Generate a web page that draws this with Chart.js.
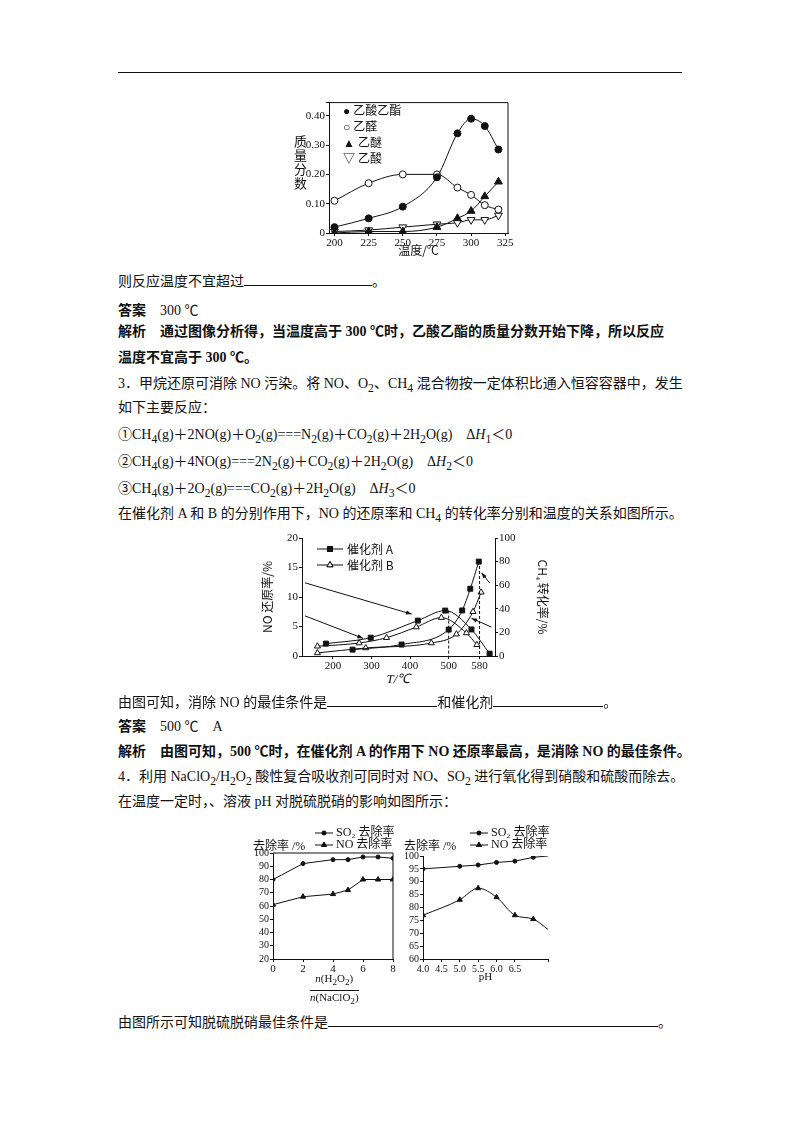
<!DOCTYPE html>
<html><head><meta charset="utf-8">
<script src="https://cdn.jsdelivr.net/npm/chart.js@4"></script>
<style>
body{margin:0;width:800px;height:1132px;background:#fff;position:relative;font-family:"Liberation Serif","Noto Sans CJK SC",serif;color:#111}
.t{position:absolute;left:118px;font-size:14px;line-height:18px;white-space:nowrap}
.b{font-weight:bold}
.u{display:inline-block;border-bottom:1px solid #111;height:13px;vertical-align:baseline}
canvas{position:absolute}
.s{position:absolute;font-size:12px;white-space:nowrap}
</style></head><body>
<div style="position:absolute;left:118px;top:72px;width:564px;border-top:1px solid #111"></div>

<canvas id="c1" width="250" height="175" style="left:280px;top:95px"></canvas>
<div class="s" style="left:290px;top:135px;writing-mode:vertical-rl;font-size:13px;letter-spacing:1px">质量分数</div>
<div class="s" style="left:343px;top:103px;line-height:16px;font-size:12px">● 乙酸乙酯<br>○ 乙醛<br>▲ 乙醚<br>▽ 乙酸</div>

<div class="t" style="top:272px">则反应温度不宜超过<span class="u" style="width:128px"></span>。</div>
<div class="t" style="top:302px"><b>答案</b>　300 ℃</div>
<div class="t b" style="top:323px">解析　通过图像分析得，当温度高于 300 ℃时，乙酸乙酯的质量分数开始下降，所以反应</div>
<div class="t b" style="top:349px">温度不宜高于 300 ℃。</div>
<div class="t" style="top:375px">3．甲烷还原可消除 NO 污染。将 NO、O<sub>2</sub>、CH<sub>4</sub> 混合物按一定体积比通入恒容容器中，发生</div>
<div class="t" style="top:399px">如下主要反应：</div>
<div class="t" style="top:426px">①CH<sub>4</sub>(g)＋2NO(g)＋O<sub>2</sub>(g)===N<sub>2</sub>(g)＋CO<sub>2</sub>(g)＋2H<sub>2</sub>O(g)　Δ<i>H</i><sub>1</sub>＜0</div>
<div class="t" style="top:453px">②CH<sub>4</sub>(g)＋4NO(g)===2N<sub>2</sub>(g)＋CO<sub>2</sub>(g)＋2H<sub>2</sub>O(g)　Δ<i>H</i><sub>2</sub>＜0</div>
<div class="t" style="top:480px">③CH<sub>4</sub>(g)＋2O<sub>2</sub>(g)===CO<sub>2</sub>(g)＋2H<sub>2</sub>O(g)　Δ<i>H</i><sub>3</sub>＜0</div>
<div class="t" style="top:505px">在催化剂 A 和 B 的分别作用下，NO 的还原率和 CH<sub>4</sub> 的转化率分别和温度的关系如图所示。</div>

<canvas id="c2" width="290" height="165" style="left:260px;top:530px"></canvas>

<div class="t" style="top:693px">由图可知，消除 NO 的最佳条件是<span class="u" style="width:110px"></span>和催化剂<span class="u" style="width:110px"></span>。</div>
<div class="t" style="top:718px"><b>答案</b>　500 ℃　A</div>
<div class="t b" style="top:743px">解析　由图可知，500 ℃时，在催化剂 A 的作用下 NO 还原率最高，是消除 NO 的最佳条件。</div>
<div class="t" style="top:768px">4．利用 NaClO<sub>2</sub>/H<sub>2</sub>O<sub>2</sub> 酸性复合吸收剂可同时对 NO、SO<sub>2</sub> 进行氧化得到硝酸和硫酸而除去。</div>
<div class="t" style="top:793px">在温度一定时，、溶液 pH 对脱硫脱硝的影响如图所示：</div>

<canvas id="c3" width="150" height="185" style="left:250px;top:825px"></canvas>
<canvas id="c4" width="160" height="185" style="left:400px;top:825px"></canvas>
<div class="s" style="left:253px;top:836px">去除率 /%</div>
<div class="s" style="left:404px;top:836px">去除率 /%</div>
<div class="s" style="left:310px;top:972px;text-align:center;font-size:11px;line-height:13px"><i>n</i>(H<sub>2</sub>O<sub>2</sub>)<div style="border-top:1px solid #111;margin-top:1px"><i>n</i>(NaClO<sub>2</sub>)</div></div>

<div class="t" style="top:1013px">由图所示可知脱硫脱硝最佳条件是<span class="u" style="width:330px"></span>。</div>

<script>
// chart 1: 质量分数 vs 温度
const temps1 = [200, 225, 250, 275, 290, 300, 310, 320];
const esterVals = [0.02, 0.05, 0.09, 0.19, 0.34, 0.39, 0.365, 0.285];
const aldehydeVals = [0.11, 0.17, 0.20, 0.20, 0.155, 0.13, 0.095, 0.08];
const etherVals = [0, 0.005, 0.005, 0.02, 0.05, 0.075, 0.125, 0.175];
const acidVals = [0.005, 0.01, 0.02, 0.03, 0.035, 0.045, 0.045, 0.06];

// chart 2: NO 还原率 / CH4 转化率 vs T
const aNoT = [182, 298, 420, 491, 559, 606];
const aNoVals = [2.1, 3.1, 6.0, 7.7, 4.5, 0.4];
const aCh4T = [251, 378, 500, 535, 556, 578];
const aCh4Vals = [5.4, 9.7, 22.4, 38.6, 57, 80];
const bNoT = [160, 268, 339, 416, 481, 546, 573];
const bNoVals = [1.65, 2.2, 3.1, 4.9, 6.5, 3.9, 1.9];
const bCh4T = [160, 285, 455, 520, 563, 584];
const bCh4Vals = [2.6, 6.8, 11, 18.5, 37.5, 54];
const tTicks = [200, 300, 400, 500, 580];

// chart 3: vs n(H2O2)/n(NaClO2)
const ratios = [0, 2, 4, 5, 6, 7, 8];
const so2ByRatio = [80, 92, 95, 95, 97, 97, 96];
const noByRatio = [61, 67, 69, 72, 80, 80, 80];

// chart 4: vs pH
const phs = [4.0, 5.0, 5.5, 6.0, 6.5, 7.0, 7.4];
const so2ByPh = [95, 96, 96.5, 97.5, 98, 99.5, 100];
const noByPh = [77, 83, 87.5, 84, 77, 75.5, 71.5];

const tickFont = { family: "Liberation Serif", size: 11 };
const ink = "#111";
const xy = (xs, ys) => xs.map((x, i) => ({ x, y: ys[i] }));

const frame = (sides) => ({
  id: "frame",
  afterDraw(c) {
    const a = c.chartArea, g = c.ctx;
    g.save(); g.strokeStyle = ink; g.lineWidth = 1; g.beginPath();
    if (sides.includes("t")) { g.moveTo(a.left, a.top); g.lineTo(a.right, a.top); }
    if (sides.includes("r")) { g.moveTo(a.right, a.top); g.lineTo(a.right, a.bottom); }
    g.stroke(); g.restore();
  }
});

function axis(o) {
  return Object.assign({
    type: "linear",
    grid: { display: true, drawOnChartArea: false, color: ink, tickLength: 3 },
    border: { color: ink },
    ticks: { color: ink, font: tickFont, padding: 1, autoSkip: false, maxRotation: 0 }
  }, o);
}

function series(data, style, extra) {
  return Object.assign({
    data, borderColor: ink, borderWidth: 1, pointRadius: 3.5,
    pointBackgroundColor: ink, pointBorderColor: ink, pointBorderWidth: 1,
    pointStyle: style, tension: 0
  }, extra);
}

// ---------- chart 1
new Chart(document.getElementById("c1"), {
  type: "scatter",
  data: { datasets: [
    series(xy(temps1, esterVals), "circle", { showLine: true, cubicInterpolationMode: "monotone" }),
    series(xy(temps1, aldehydeVals), "circle", { showLine: true, cubicInterpolationMode: "monotone", pointBackgroundColor: "#fff" }),
    series(xy(temps1, etherVals), "triangle", { showLine: true, cubicInterpolationMode: "monotone", pointRadius: 4.5 }),
    series(xy(temps1, acidVals), "triangle", { showLine: true, cubicInterpolationMode: "monotone", pointRadius: 4.5, pointRotation: 180, pointBackgroundColor: "#fff" })
  ] },
  options: {
    responsive: false, animation: false,
    layout: { padding: { top: 5, right: 22 } },
    plugins: { legend: { display: false }, tooltip: { enabled: false } },
    scales: {
      x: axis({ min: 196, max: 327, afterBuildTicks: s => { s.ticks = [200, 225, 250, 275, 300, 325].map(v => ({ value: v })); },
        afterFit: s => { s.height = 37; },
        title: { display: true, text: "温度/℃", color: ink, font: { family: "Noto Sans CJK SC", size: 12 }, padding: { top: 0, bottom: 12 } } }),
      y: axis({ min: 0, max: 0.445, afterFit: s => { s.width = 49; },
        ticks: { color: ink, font: tickFont, stepSize: 0.1, padding: 1, autoSkip: false,
          callback: v => Math.abs(v * 10 - Math.round(v * 10)) > 1e-6 || v > 0.41 ? "" : (v === 0 ? "0" : v.toFixed(2)) } })
    }
  },
  plugins: [frame("tr")]
});

// ---------- chart 2
const arrows = [
  [128, 12.4, 404, 7.1], [128, 6.8, 278, 3.0], [611, 4.9, 559, 6.4], [606, 12.4, 585, 14.1]
];
const notes2 = {
  id: "notes2",
  afterDraw(c) {
    const g = c.ctx, x = c.scales.x, y = c.scales.y;
    g.save(); g.strokeStyle = ink; g.fillStyle = ink; g.lineWidth = 1;
    g.setLineDash([3, 2]);
    [[500, 7.7], [580, 16.1]].forEach(([t, v]) => {
      g.beginPath(); g.moveTo(x.getPixelForValue(t), y.getPixelForValue(v));
      g.lineTo(x.getPixelForValue(t), y.getPixelForValue(0)); g.stroke();
    });
    g.setLineDash([]);
    arrows.forEach(([t0, v0, t1, v1]) => {
      const x0 = x.getPixelForValue(t0), y0 = y.getPixelForValue(v0);
      const x1 = x.getPixelForValue(t1), y1 = y.getPixelForValue(v1);
      const ang = Math.atan2(y1 - y0, x1 - x0);
      g.beginPath(); g.moveTo(x0, y0); g.lineTo(x1, y1); g.stroke();
      g.beginPath(); g.moveTo(x1, y1);
      g.lineTo(x1 - 6 * Math.cos(ang - 0.35), y1 - 6 * Math.sin(ang - 0.35));
      g.lineTo(x1 - 6 * Math.cos(ang + 0.35), y1 - 6 * Math.sin(ang + 0.35));
      g.closePath(); g.fill();
    });
    // legend
    g.font = "12px 'Noto Sans CJK SC'"; g.textBaseline = "middle";
    [["催化剂 A", "rect", ink, c.chartArea.top + 11], ["催化剂 B", "triangle", "#fff", c.chartArea.top + 27]].forEach(([txt, st, fill, yy]) => {
      const lx = c.chartArea.left + 15;
      g.beginPath(); g.moveTo(lx, yy); g.lineTo(lx + 26, yy); g.stroke();
      g.fillStyle = fill;
      Chart.helpers.drawPoint(g, { pointStyle: st, radius: 3.5, borderWidth: 1 }, lx + 13, yy);
      g.fill(); g.stroke();
      g.fillStyle = ink; g.fillText(txt, lx + 30, yy);
    });
    g.restore();
  }
};
new Chart(document.getElementById("c2"), {
  type: "scatter",
  data: { datasets: [
    series(xy(aNoT, aNoVals), "rect", { showLine: true, cubicInterpolationMode: "monotone", yAxisID: "y" }),
    series(xy(aCh4T, aCh4Vals), "rect", { showLine: true, cubicInterpolationMode: "monotone", yAxisID: "y2" }),
    series(xy(bNoT, bNoVals), "triangle", { showLine: true, cubicInterpolationMode: "monotone", pointBackgroundColor: "#fff", yAxisID: "y" }),
    series(xy(bCh4T, bCh4Vals), "triangle", { showLine: true, cubicInterpolationMode: "monotone", pointBackgroundColor: "#fff", yAxisID: "y2" })
  ] },
  options: {
    responsive: false, animation: false,
    layout: { padding: { top: 8 } },
    plugins: { legend: { display: false }, tooltip: { enabled: false } },
    scales: {
      x: axis({ min: 120, max: 620, afterBuildTicks: s => { s.ticks = tTicks.map(v => ({ value: v })); },
        afterFit: s => { s.height = 39; },
        title: { display: true, text: "T/℃", color: ink, font: { family: "Liberation Serif", size: 13, style: "italic" }, padding: { top: 0, bottom: 8 } } }),
      y: axis({ min: 0, max: 20, afterFit: s => { s.width = 42; }, ticks: { color: ink, font: tickFont, stepSize: 5, padding: 1 },
        title: { display: true, text: "NO 还原率/%", color: ink, font: { family: "Noto Sans CJK SC", size: 12 }, padding: 0 } }),
      y2: axis({ position: "right", min: 0, max: 100, afterFit: s => { s.width = 55; }, ticks: { color: ink, font: tickFont, stepSize: 20, padding: 1 },
        title: { display: true, text: "CH₄ 转化率/%", color: ink, font: { family: "Noto Sans CJK SC", size: 12 }, padding: 0 } })
    }
  },
  plugins: [notes2]
});

// ---------- charts 3 & 4
const legend34 = {
  id: "legend34",
  afterDraw(c) {
    const g = c.ctx, lx = c.chartArea.right - 78;
    g.save(); g.strokeStyle = ink; g.fillStyle = ink; g.lineWidth = 1;
    g.font = "12px 'Liberation Serif','Noto Sans CJK SC'"; g.textBaseline = "middle";
    [["SO₂ 去除率", "circle", 8], ["NO 去除率", "triangle", 20]].forEach(([txt, st, yy]) => {
      g.beginPath(); g.moveTo(lx, yy); g.lineTo(lx + 18, yy); g.stroke();
      Chart.helpers.drawPoint(g, { pointStyle: st, radius: st === "circle" ? 2 : 3, borderWidth: 1 }, lx + 9, yy);
      g.fill();
      g.fillText(txt, lx + 21, yy);
    });
    g.restore();
  }
};
const decimals = (d, top) => v => v > top + 1e-6 ? "" : v.toFixed(d);

new Chart(document.getElementById("c3"), {
  type: "scatter",
  data: { datasets: [
    series(xy(ratios, so2ByRatio), "circle", { showLine: true, pointRadius: 2 }),
    series(xy(ratios, noByRatio), "triangle", { showLine: true, pointRadius: 3 })
  ] },
  options: {
    responsive: false, animation: false,
    layout: { padding: { top: 28, right: 7 } },
    plugins: { legend: { display: false }, tooltip: { enabled: false } },
    scales: {
      x: axis({ min: 0, max: 8, afterFit: s => { s.height = 51; }, ticks: { color: ink, font: tickFont, stepSize: 2, padding: 1, autoSkip: false } }),
      y: axis({ min: 20, max: 100, afterFit: s => { s.width = 23; }, ticks: { color: ink, font: { family: "Liberation Serif", size: 10 }, stepSize: 10, padding: 1, autoSkip: false } })
    }
  },
  plugins: [frame("tr"), legend34]
});

new Chart(document.getElementById("c4"), {
  type: "scatter",
  data: { datasets: [
    series(xy(phs, so2ByPh), "circle", { showLine: true, pointRadius: [2, 2, 2, 2, 2, 2, 0] }),
    series(xy(phs, noByPh), "triangle", { showLine: true, cubicInterpolationMode: "monotone", pointRadius: [3, 3, 3, 3, 3, 3, 0] })
  ] },
  options: {
    responsive: false, animation: false,
    layout: { padding: { top: 31, right: 12 } },
    plugins: { legend: { display: false }, tooltip: { enabled: false } },
    scales: {
      x: axis({ min: 4.0, max: 7.4, afterFit: s => { s.height = 51; },
        ticks: { color: ink, font: { family: "Liberation Serif", size: 10 }, stepSize: 0.5, padding: 1, autoSkip: false, maxRotation: 0, callback: decimals(1, 7.0) },
        title: { display: true, text: "pH", color: ink, font: tickFont, padding: { top: 0, bottom: 26 } } }),
      y: axis({ min: 60, max: 100, afterFit: s => { s.width = 23; }, ticks: { color: ink, font: { family: "Liberation Serif", size: 10 }, stepSize: 5, padding: 1, autoSkip: false } })
    }
  },
  plugins: [legend34]
});
</script>
</body></html>
